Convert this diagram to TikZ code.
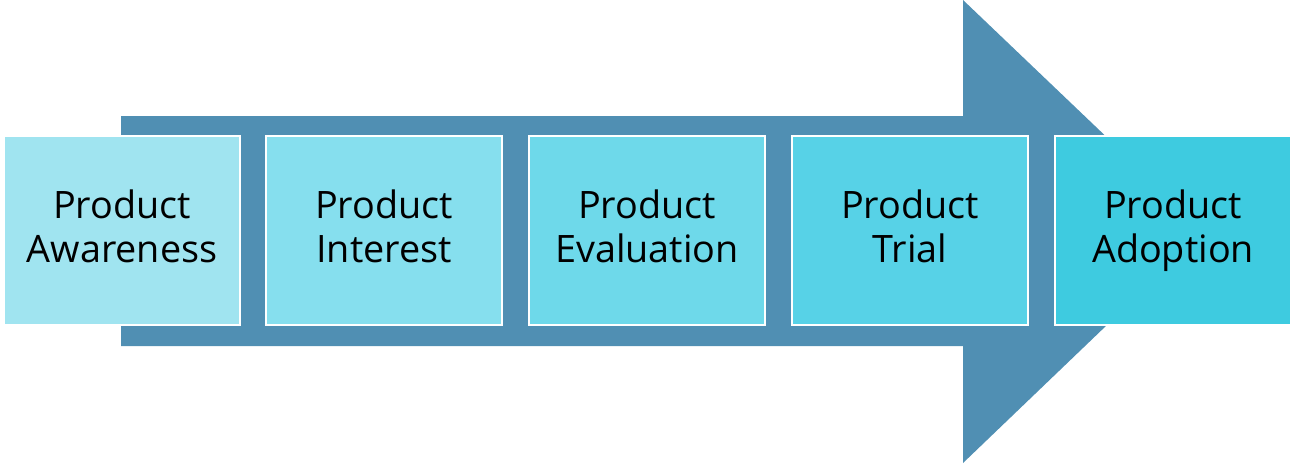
\documentclass[tikz,border=0pt]{standalone}
\usepackage{fontspec}
\setmainfont{Open Sans}
\begin{document}
\begin{tikzpicture}[x=0.02cm,y=-0.02cm,
  stage/.style={draw=white,line width=1.2pt,minimum width=4.72cm,minimum height=3.78cm,align=center,font=\fontsize{21.5}{25}\selectfont,anchor=north west,inner sep=0pt}]
\definecolor{arr}{HTML}{508FB3}
\definecolor{c1}{HTML}{A0E4F0}\definecolor{c2}{HTML}{86DFEE}\definecolor{c3}{HTML}{6ED9EA}\definecolor{c4}{HTML}{57D2E7}\definecolor{c5}{HTML}{3ECBE0}
\newcommand\myph{\vphantom{p}}
\useasboundingbox (0,0) rectangle (1293,463);
\fill[arr] (121,116) -- (963,116) -- (963,0) -- (1205,231) -- (963,463) -- (963,346) -- (121,346) -- cycle;
\node[stage,fill=c1] (a) at (3,135) {Product\\Awareness\myph};
\node[stage,fill=c2] (b) at (265,135) {Product\\Interest\myph};
\node[stage,fill=c3] (c) at (528,135) {Product\\Evaluation\myph};
\node[stage,fill=c4] (d) at (791,135) {Product\\Trial\myph};
\node[stage,fill=c5] (e) at (1054,135) {Product\\Adoption\myph};
\end{tikzpicture}
\end{document}
